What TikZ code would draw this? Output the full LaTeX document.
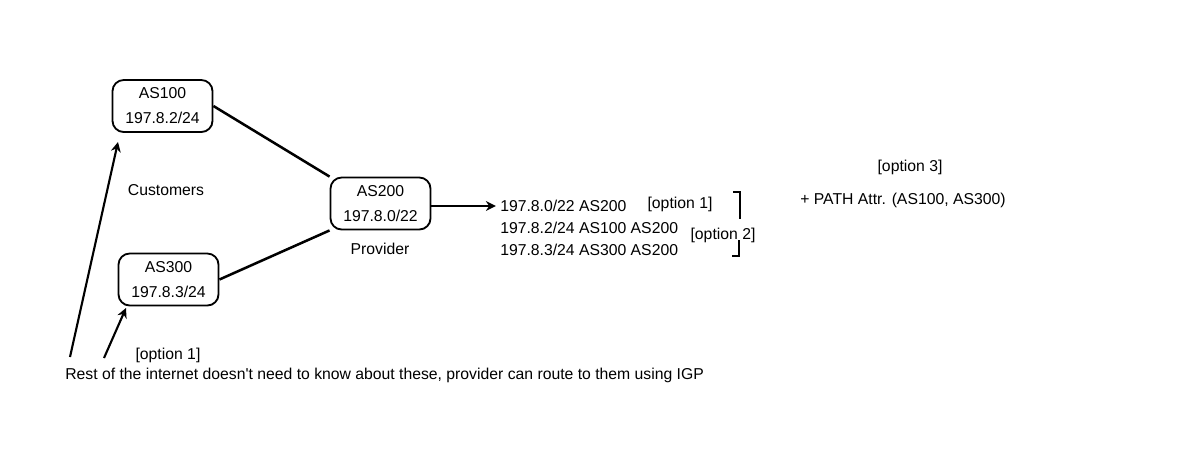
\documentclass[tikz,border=0pt]{standalone}
\usepackage{fontspec}
\setmainfont{Liberation Sans}
\usetikzlibrary{arrows.meta}
\begin{document}
\begin{tikzpicture}[x=0.025cm, y=-0.025cm,
		asbox/.style={draw, line width=1.3pt, rounded corners=0.28cm, minimum width=2.5cm, minimum height=1.3cm, align=center, font=\fontsize{11.2}{17.7}\selectfont},
		lbl/.style={font=\fontsize{11.2}{13}\selectfont, inner sep=0pt},
		link/.style={line width=1.8pt},
		tip/.style={line width=1.5pt, -{Stealth[length=7pt, width=7pt]}}]
		\useasboundingbox (0,0) rectangle (1200,450);

		% Autonomous systems
		\node[asbox] (as100) at (162.5,106) {AS100\\197.8.2/24};
		\node[asbox] (as300) at (168.5,279.5) {AS300\\197.8.3/24};
		\node[asbox] (as200) at (380.5,203.5) {AS200\\197.8.0/22};
		\node[lbl] (cust) at (166,190) {Customers};
		\node[lbl] (prov) at (380,249) {Provider};

		% Links
		\draw[link] (as100.east) -- (as200.north west);
		\draw[link] (as300.east) -- (as200.south west);

		% Announced routes
		\node[lbl, anchor=west] (r1) at (500,206) {197.8.0/22 AS200};
		\node[lbl, anchor=west] (r2) at (500,228) {197.8.2/24 AS100 AS200};
		\node[lbl, anchor=west] (r3) at (500,250) {197.8.3/24 AS300 AS200};
		\draw[tip, shorten >=3pt] (as200.east |- r1.west) -- (r1.west);
		\node[lbl] (opt1) at (680,204) {[option 1]};
		\node[lbl] (opt2) at (723,235) {[option 2]};
		\draw[line width=2pt] (733,192) -- (740,192) -- (740,219);
		\draw[line width=2pt] (739,240) -- (739,256) -- (732,256);

		% Option 3
		\node[lbl] (opt3) at (910,167) {[option 3]};
		\node[lbl, anchor=west] (path) at (800,200) {+ PATH Attr. (AS100, AS300)};

		% Rest of the internet
		\coordinate (src1) at (70,357);
		\coordinate (dst1) at (118,142);
		\coordinate (src2) at (104,358);
		\coordinate (dst2) at (126,308);
		\draw[tip] (src1) -- (dst1);
		\draw[tip] (src2) -- (dst2);
		\node[lbl] (optb) at (168,355) {[option 1]};
		\node[lbl, anchor=west] (rest) at (65,375) {Rest of the internet doesn\textquotesingle t need to know about these, provider can route to them using IGP};
	\end{tikzpicture}
\end{document}
